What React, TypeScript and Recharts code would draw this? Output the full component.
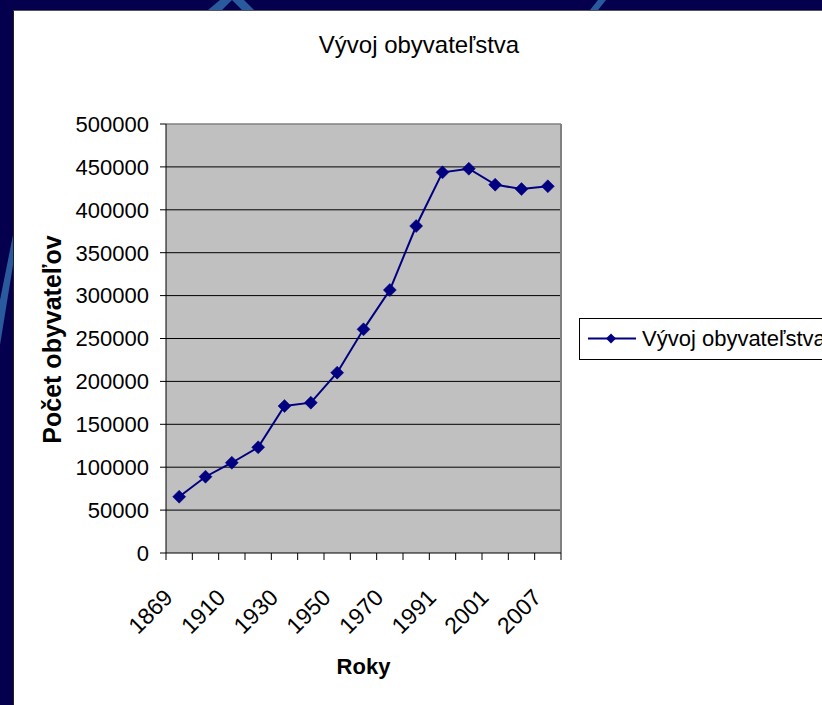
import React from 'react';
import { LineChart, Line, XAxis, YAxis, CartesianGrid, ReferenceLine } from 'recharts';

const years = ['1869', '1890', '1910', '1921', '1930', '1940', '1950', '1961', '1970', '1980', '1991', '1996', '2001', '2004', '2007'];
const population = [65600, 88900, 105200, 123200, 171300, 175200, 210200, 260700, 306500, 381100, 443700, 447900, 429300, 424200, 427400];
const yTicks = [0, 50000, 100000, 150000, 200000, 250000, 300000, 350000, 400000, 450000, 500000];
const gridValues = [50000, 100000, 150000, 200000, 250000, 300000, 350000, 400000, 450000];
const chartTitle = 'Vývoj obyvateľstva';
const seriesName = 'Vývoj obyvateľstva';
const xTitle = 'Roky';
const yTitle = 'Počet obyvateľov';

const data = years.map((y, i) => ({ pos: i + 0.5, year: y, value: population[i] }));
const xTicks: number[] = [];
for (let i = 0; i <= years.length; i++) {
  xTicks.push(i);
  if (i < years.length) xTicks.push(i + 0.5);
}

const FONT = '"Liberation Sans", Arial, sans-serif';
const NAVY = '#000080';

const XTick = (props: any) => {
  const { x, y, payload } = props;
  const v = payload.value as number;
  if (Number.isInteger(v)) {
    return <line x1={x} x2={x} y1={y - 7} y2={y} stroke="#000" strokeWidth={1} />;
  }
  const idx = Math.round(v - 0.5);
  if (idx % 2 !== 0) return <g />;
  const ax = x - 5;
  const ay = y + 39;
  return (
    <text x={ax} y={ay} transform={`rotate(-45 ${ax} ${ay})`} textAnchor="end" fontSize={23} fill="#000" fontFamily={FONT}>
      {years[idx]}
    </text>
  );
};

const Diamond = (props: any) => {
  const { cx, cy } = props;
  if (cx == null || cy == null) return <g />;
  const s = 6.5;
  return <polygon points={`${cx},${cy - s} ${cx + s},${cy} ${cx},${cy + s} ${cx - s},${cy}`} fill={NAVY} stroke={NAVY} strokeWidth={0.5} />;
};

const YLabel = (props: any) => {
  const vb = props.viewBox || { x: 0, y: 124, width: 166, height: 429 };
  const cx = vb.x + 52;
  const cy = vb.y + vb.height / 2 + 1;
  return (
    <text x={cx} y={cy} transform={`rotate(-90 ${cx} ${cy})`} textAnchor="middle" dominantBaseline="central" fontSize={25} fontWeight="bold" fill="#000" fontFamily={FONT}>
      {yTitle}
    </text>
  );
};

const XLabel = (props: any) => {
  const vb = props.viewBox || { x: 166, y: 553, width: 395, height: 130 };
  const cx = vb.x + vb.width / 2;
  const cy = vb.y + 113;
  return (
    <text x={cx} y={cy} textAnchor="middle" dominantBaseline="central" fontSize={22} fontWeight="bold" fill="#000" fontFamily={FONT}>
      {xTitle}
    </text>
  );
};

export default function App() {
  return (
    <div style={{ position: 'absolute', left: 0, top: 0, width: 822, height: 705, background: '#04004E', overflow: 'hidden', fontFamily: FONT }}>
      <svg width={822} height={705} style={{ position: 'absolute', left: 0, top: 0 }}>
        <polygon points="208,10 220,0 232,0 222,10" fill="#2A5A9E" />
        <polygon points="232,0 244,0 254,10 242,10" fill="#2A5A9E" />
        <polygon points="590,10 598,0 606,0 598,10" fill="#2A5A9E" />
        <polygon points="13,235 13,265 0,345 0,300" fill="#2A5A9E" />
      </svg>
      <div style={{ position: 'absolute', left: 13, top: 10, width: 809, height: 695, background: '#FFFFFF', borderTop: '1px solid #555', borderLeft: '1px solid #222', boxSizing: 'border-box' }} />
      <div style={{ position: 'absolute', left: 0, top: 0 }}>
        <LineChart width={822} height={705} data={data} margin={{ top: 124, right: 261, bottom: 22, left: 0 }} style={{ fontFamily: FONT }}>
          <CartesianGrid vertical={false} horizontalValues={gridValues} stroke="#000" strokeOpacity={1} fill="#C0C0C0" fillOpacity={1} />
          <XAxis
            dataKey="pos"
            type="number"
            domain={[0, years.length]}
            ticks={xTicks}
            interval={0}
            allowDecimals
            height={130}
            tickSize={7}
            tickMargin={0}
            tickLine={false}
            axisLine={{ stroke: '#000', strokeWidth: 1 }}
            tick={<XTick />}
            label={<XLabel />}
          />
          <YAxis
            type="number"
            domain={[0, 500000]}
            ticks={yTicks}
            interval={0}
            width={166}
            tickSize={6}
            tickMargin={11}
            axisLine={{ stroke: '#000', strokeWidth: 1 }}
            tickLine={{ stroke: '#000', strokeWidth: 1 }}
            tick={{ fontSize: 22, fill: '#000', fontFamily: FONT }}
            label={<YLabel />}
          />
          <ReferenceLine y={500000} stroke="#808080" strokeWidth={1.5} ifOverflow="extendDomain" />
          <ReferenceLine x={years.length} stroke="#808080" strokeWidth={2} ifOverflow="extendDomain" />
          <Line
            type="linear"
            dataKey="value"
            name={seriesName}
            stroke={NAVY}
            strokeWidth={2}
            dot={<Diamond />}
            activeDot={false}
            isAnimationActive={false}
          />
        </LineChart>
      </div>
      <svg width={822} height={705} style={{ position: 'absolute', left: 0, top: 0, pointerEvents: 'none' }}>
        <text x={419} y={53} textAnchor="middle" fontSize={24} fill="#000" fontFamily={FONT}>
          {chartTitle}
        </text>
        <rect x={579.5} y={318.5} width={260} height={41} fill="#FFFFFF" stroke="#000" strokeWidth={1} />
        <line x1={588} x2={636} y1={338.5} y2={338.5} stroke={NAVY} strokeWidth={2} />
        <polygon points="611,333.5 616,338.5 611,343.5 606,338.5" fill={NAVY} />
        <text x={642} y={346} fontSize={22} fill="#000" fontFamily={FONT}>
          {seriesName}
        </text>
      </svg>
    </div>
  );
}
